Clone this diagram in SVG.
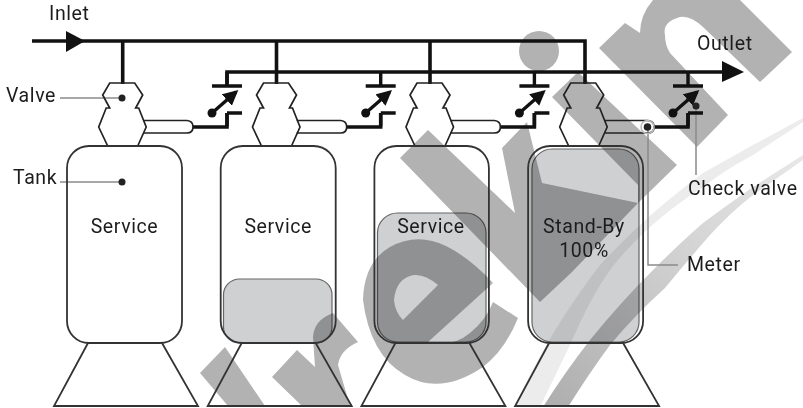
<svg xmlns="http://www.w3.org/2000/svg" width="803" height="408" viewBox="0 0 803 408">
<defs>
<style>
text{font-family:Roboto,"Noto Sans",sans-serif;font-size:19.5px;letter-spacing:.6px;fill:#1c1c1c}
.m{text-anchor:middle}
.p{fill:none;stroke:#111;stroke-width:3.6}
.bar{fill:none;stroke:#111;stroke-width:3.4}
.o{fill:none;stroke:#222;stroke-width:1.7;stroke-linejoin:miter}
.lvl{fill:#cfd0d2;stroke:#666;stroke-width:1.2;mix-blend-mode:multiply}
.t{fill:none;stroke:#333;stroke-width:1.8}
.l{fill:none;stroke:#8a8a8a;stroke-width:1.5}
.d{fill:#222}
.wm{fill:#b2b2b2}
</style>
<linearGradient id="sw" gradientUnits="userSpaceOnUse" x1="803" y1="155" x2="550" y2="408"><stop offset="0" stop-color="#e8e8e8"/><stop offset=".4" stop-color="#d4d4d4"/><stop offset="1" stop-color="#aeaeae"/></linearGradient>
<marker id="ah" viewBox="0 0 10 10" refX="8" refY="5" markerWidth="4.500" markerHeight="4.500" orient="auto"><path d="M0 0L10 5L0 10z" fill="#111"/></marker>
<g id="valveShape"><path class="o" d="M-13 0H12L20 12L13 25H16L23.500 44L15 63H-15L-24 44L-16.500 25H-13L-20 12Z"/></g>
<g id="checkShape"><path class="bar" d="M0 -27V-13M-15 -13H15M0 14V27M0 14H15"/><circle cx="-15" cy="14" r="4.500" fill="#111"/><path d="M-15 14L9 -7" fill="none" stroke="#111" stroke-width="3.400" marker-end="url(#ah)"/></g>
</defs>
<g id="watermark">
<path d="M515 405Q550 330 600 265Q625 238 653 213Q680 190 703 173Q730 158 753 145L803 118V122L753 155Q725 170 703 187Q675 205 650 227Q625 250 610 270Q590 298 570 345L541 405Z" fill="#ececec"/>
<path d="M543 407Q565 372 590 340Q620 303 653 270Q680 243 703 223Q730 203 753 187L803 155V160L753 195Q730 213 710 235Q688 260 665 288Q635 315 610 345Q590 372 568 407Z" fill="url(#sw)"/>
<path class="wm" d="M200 373L225 347L265 406H228Z"/>
<path class="wm" d="M272 377L297 350L315 367L313 337Q314 320 333 313L358 342Q340 350 338 365L350 406H302Z"/>
<path class="wm" fill-rule="evenodd" d="M363 300Q364 262 390 247Q417 232 446 246Q470 258 493 283L428 342Q452 348 470 333Q486 320 493 302L518 318Q505 350 483 367Q440 396 405 375Q370 355 363 300ZM438 285Q425 274 414 275Q396 278 394 300Q395 312 403 320Z"/>
<path class="wm" d="M400 158L428 130L515 213L502 148L527 122L542 183L638 203L572 272L540 302Z"/>
<path class="wm" d="M552 97L578 72L677 165L638 203V185Z"/>
<circle class="wm" cx="539" cy="51" r="20"/>
<path class="wm" d="M599 48L625 23L640 33Q640 15 653 0H740L792 52L760 82L703 27Q690 15 680 17Q662 22 665 35Q665 45 670 53L728 115L697 147Z"/>
</g>
<g id="connectors">
<path class="p" d="M32 41H585V84M122.700 41V84M276.500 41V84M430 41V84"/>
<path class="p" d="M227 86V72H725"/>
<path class="p" d="M193 127H227V113M346.700 127H380.700V113M500.400 127H534.400V113M653 127H688V113"/>
<path d="M66 31L85 41L66 52z" fill="#111"/>
<path d="M722 61L744 72L722 82z" fill="#111"/>
<path class="l" d="M60 98H122M60 182H122M696 106V175M648 127V265H678"/>
</g>
<g id="valve1"><use href="#valveShape" transform="translate(122.700 83)"/><path class="o" d="M143 120.500H187Q193 121 193 127Q193 133 187 133H143"/><circle class="d" cx="122" cy="98" r="3.500"/></g>
<g id="valve2"><use href="#valveShape" transform="translate(276.500 83)"/><path class="o" d="M296.700 120.500H340.700Q346.700 121 346.700 127Q346.700 133 340.700 133H296.700"/></g>
<g id="valve3"><use href="#valveShape" transform="translate(430 83)"/><path class="o" d="M450.400 120.500H494.400Q500.400 121 500.400 127Q500.400 133 494.400 133H450.400"/></g>
<g id="valve4"><use href="#valveShape" transform="translate(583.700 83)"/><path class="o" d="M604 120.500H648Q654 121 654 127Q654 133 648 133H604"/><circle cx="647.500" cy="127" r="6.500" fill="none" stroke="#bbb" stroke-width="1.500"/><circle class="d" cx="647.500" cy="127" r="3.800"/></g>
<g id="check1"><use href="#checkShape" transform="translate(227 99)"/></g>
<g id="check2"><use href="#checkShape" transform="translate(380.700 99)"/></g>
<g id="check3"><use href="#checkShape" transform="translate(534.400 99)"/></g>
<g id="check4"><use href="#checkShape" transform="translate(688 99)"/><circle class="d" cx="696" cy="106" r="3.500"/></g>
<g id="tank1"><rect class="t" x="67" y="146" width="115" height="197" rx="22"/><path class="t" d="M88 343L54 406H198L162 343"/><circle class="d" cx="122" cy="182" r="3.500"/><text class="m" x="124.500" y="233">Service</text></g>
<g id="tank2"><rect class="lvl" x="223.500" y="279" width="108.500" height="64" rx="16"/><rect class="t" x="220.700" y="146" width="115" height="197" rx="22"/><path class="t" d="M241.700 343L207.700 406H351.700L315.700 343"/><text class="m" x="278.200" y="233">Service</text></g>
<g id="tank3"><rect class="lvl" x="377.500" y="213" width="108.500" height="129" rx="20"/><rect class="t" x="374.400" y="146" width="114.500" height="197" rx="22"/><path class="t" d="M395.400 343L361.400 406H505.400L469.400 343"/><text class="m" x="431" y="233">Service</text></g>
<g id="tank4"><rect class="lvl" x="532" y="149" width="107" height="193" rx="20"/><rect class="t" x="528.100" y="146" width="115" height="197" rx="22"/><path class="t" d="M549.100 343L515.100 406H659.100L623.100 343"/><text class="m" x="584" y="233">Stand-By</text><text class="m" x="584" y="257">100%</text></g>
<g id="labels">
<text x="49" y="20">Inlet</text>
<text x="6" y="102">Valve</text>
<text x="13" y="184">Tank</text>
<text x="697" y="50">Outlet</text>
<text x="688" y="195">Check valve</text>
<text x="687" y="271">Meter</text>
</g>
</svg>
